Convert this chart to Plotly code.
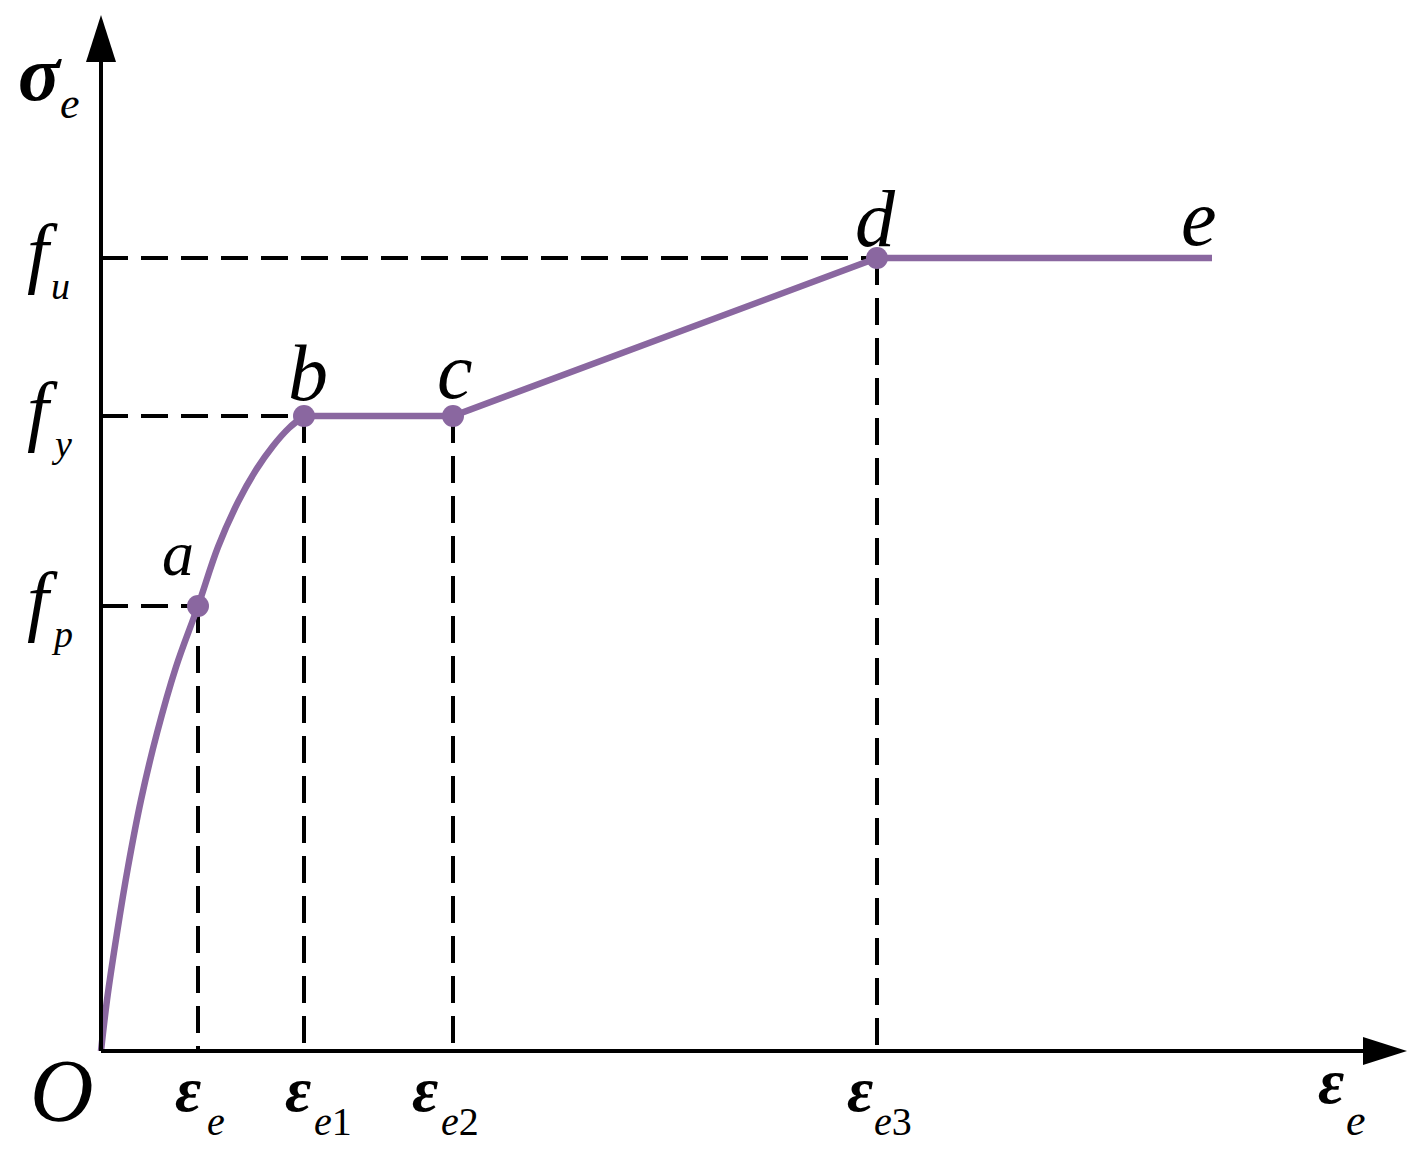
import plotly.graph_objects as go

# ---- data (schematic units) ----
pt_labels = ["a", "b", "c", "d", "e"]
pt_strain = [0.97, 2.03, 3.52, 7.76, 11.11]
pt_stress = [4.45, 6.35, 6.35, 7.93, 7.93]

# nonlinear branch O -> a -> b
curve_strain = [0.0, 0.06, 0.16, 0.27, 0.40, 0.56, 0.75, 0.97, 1.17, 1.37, 1.55, 1.72, 1.88, 2.03]
curve_stress = [0.0, 0.51, 1.18, 1.84, 2.51, 3.18, 3.84, 4.45, 5.04, 5.49, 5.81, 6.05, 6.23, 6.35]

# axis tick labels (symbol, subscript letter, subscript digit)
stress_ticks = [("f", "p", ""), ("f", "y", ""), ("f", "u", "")]
stress_vals = [4.45, 6.35, 7.93]
strain_ticks = [("ε", "e", ""), ("ε", "e", "1"), ("ε", "e", "2"), ("ε", "e", "3")]
strain_vals = [0.97, 2.03, 3.52, 7.76]

x_max, y_max = 13.06, 10.36

PURPLE = "#8A67A0"
FONT = "Liberation Serif"

fig = go.Figure()

dash = "27px,13px"
for xv, yv in zip([pt_strain[0], pt_strain[1], pt_strain[3]], stress_vals):
    fig.add_trace(go.Scatter(x=[0, xv], y=[yv, yv], mode="lines",
                             line=dict(color="black", width=4, dash=dash), hoverinfo="skip"))
for xv, yv in zip(pt_strain[:4], pt_stress[:4]):
    fig.add_trace(go.Scatter(x=[xv, xv], y=[yv, 0], mode="lines",
                             line=dict(color="black", width=4, dash=dash), hoverinfo="skip"))

fig.add_trace(go.Scatter(x=curve_strain, y=curve_stress, mode="lines",
                         line=dict(color=PURPLE, width=6.5, shape="spline", smoothing=1.0)))
fig.add_trace(go.Scatter(x=pt_strain[1:], y=pt_stress[1:], mode="lines",
                         line=dict(color=PURPLE, width=6.5)))
fig.add_trace(go.Scatter(x=pt_strain[:4], y=pt_stress[:4], mode="markers",
                         marker=dict(color=PURPLE, size=22)))

shapes = [
    dict(type="line", x0=0, y0=0, x1=0, y1=y_max - 0.3, line=dict(color="black", width=4)),
    dict(type="line", x0=0, y0=0, x1=x_max - 0.3, y1=0, line=dict(color="black", width=4)),
    dict(type="path",
         path=f"M 0 {y_max} L -0.15 {y_max-0.47} L 0.15 {y_max-0.47} Z",
         fillcolor="black", line=dict(width=0)),
    dict(type="path",
         path=f"M {x_max} 0 L {x_max-0.44} 0.14 L {x_max-0.44} -0.14 Z",
         fillcolor="black", line=dict(width=0)),
]

ann = []
DESC = 0.216  # font descent fraction

def label(x, y, text, size, dx, base_dy, xa="center", bold=False):
    t = text
    if bold:
        t = f"<b>{t}</b>"
    ann.append(dict(x=x, y=y, xref="x", yref="y", text=t, showarrow=False,
                    xanchor=xa, yanchor="bottom", borderpad=0,
                    xshift=dx, yshift=-(base_dy + DESC * size) + 1,
                    font=dict(family=FONT, size=size, color="black")))

# point letters: (dx, baseline dy, size)
letter_pos = [(-20, -29, 64), (4, -14, 80), (2, -16, 80), (-2, -10, 80), (-13, -11, 80)]
for lab, xv, yv, (dx, dy, s) in zip(pt_labels, pt_strain, pt_stress, letter_pos):
    label(xv, yv, f"<i>{lab}</i>", s, dx, dy)

# stress tick labels
for (sym, sub, dig), v in zip(stress_ticks, stress_vals):
    label(0, v, f"<i>{sym}</i>", 78, -59, 22)
    label(0, v, f"<i>{sub}</i>{dig}", 38, -51, 43, xa="left")

# strain tick labels: (symbol dx, subscript left dx)
strain_dx = [(-10, 8), (-6, 9), (-28, -13), (-17, -4)]
for (sym, sub, dig), v, (d1, d2) in zip(strain_ticks, strain_vals, strain_dx):
    label(v, 0, f"<i>{sym}</i>", 64, d1, 62, bold=True)
    label(v, 0, f"<i>{sub}</i>{dig}", 40, d2, 86, xa="left")

# axis titles
label(0, y_max, "<i>σ</i>", 78, -61, 87, bold=True)
label(0, y_max, "<i>e</i>", 44, -42, 105, xa="left")
label(x_max, 0, "<i>ε</i>", 64, -76, 54, bold=True)
label(x_max, 0, "<i>e</i>", 44, -62, 86, xa="left")
label(0, 0, "<i>O</i>", 88, -39, 71)

fig.update_layout(
    width=1419, height=1154,
    margin=dict(l=0, r=0, t=0, b=0),
    paper_bgcolor="white", plot_bgcolor="white",
    showlegend=False,
    shapes=shapes, annotations=ann,
    xaxis=dict(range=[-1.01, 13.18], visible=False, fixedrange=True),
    yaxis=dict(range=[-1.03, 10.51], visible=False, fixedrange=True),
)

fig.write_html("out.html", config={"displayModeBar": False},
               post_script="document.body.style.margin='0';document.body.style.overflow='hidden';")
